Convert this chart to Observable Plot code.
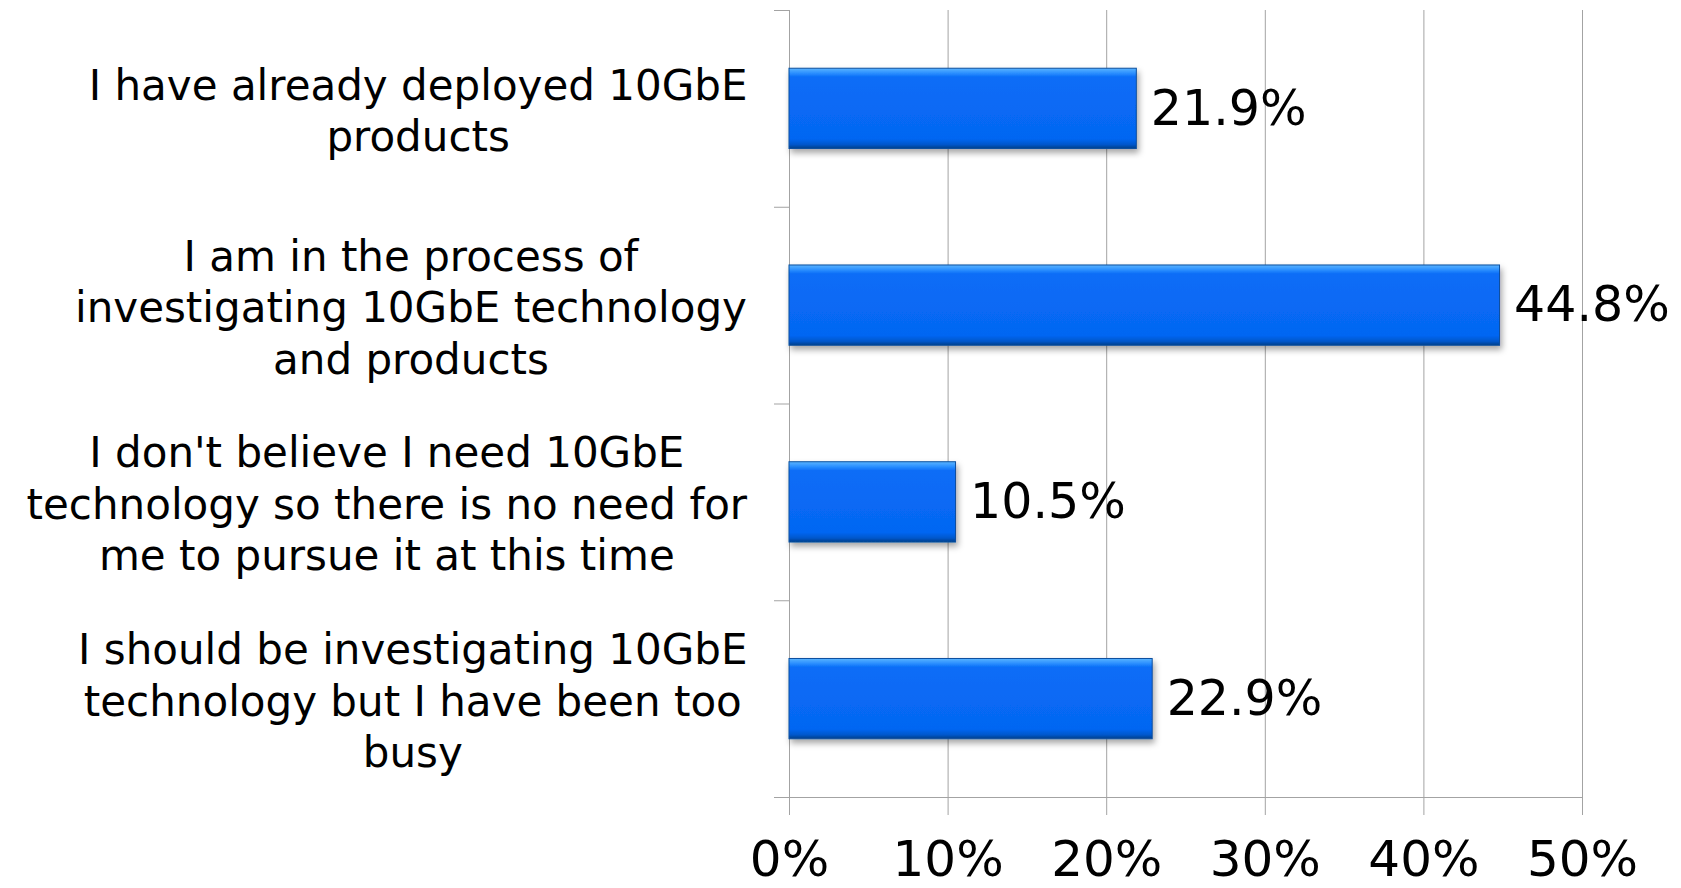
<!DOCTYPE html>
<html>
<head>
<meta charset="utf-8">
<script src="https://cdn.jsdelivr.net/npm/d3@7"></script>
<script src="https://cdn.jsdelivr.net/npm/@observablehq/plot@0.6"></script>
<style>
  html, body { margin: 0; padding: 0; background: #ffffff; }
  #chart { width: 1681px; height: 888px; overflow: hidden; }
</style>
</head>
<body>
<div id="chart"></div>
<script>
// ---- data ----
const categories = [
  "I have already deployed 10GbE\nproducts",
  "I am in the process of\ninvestigating 10GbE technology\nand products",
  "I don't believe I need 10GbE\ntechnology so there is no need for\nme to pursue it at this time",
  "I should be investigating 10GbE\ntechnology but I have been too\nbusy"
];
const values = [21.9, 44.8, 10.5, 22.9];
const xTicks = [0, 10, 20, 30, 40, 50];
const xTickLabels = ["0%", "10%", "20%", "30%", "40%", "50%"];

const data = categories.map((c, i) => ({ i, label: c, value: values[i] }));
const boundaries = d3.range(categories.length + 1);
const barInset = 0.296; // fraction of band left empty above/below each bar

const grid = "#a3a3a3";

const chart = Plot.plot({
  width: 1681,
  height: 888,
  marginLeft: 789,
  marginRight: 99,
  marginTop: 10,
  marginBottom: 91,
  style: { fontFamily: "'DejaVu Sans', Verdana, sans-serif", background: "#ffffff", color: "#000" },
  x: { domain: [0, 50], axis: null, label: null },
  y: { domain: [0, categories.length], reverse: true, axis: null, label: null },
  marks: [
    Plot.gridX({ ticks: xTicks, stroke: grid, strokeOpacity: 1, strokeWidth: 1 }),
    Plot.axisX({
      ticks: xTicks,
      tickFormat: (d) => xTickLabels[xTicks.indexOf(d)],
      tickSize: 18,
      tickPadding: 25,
      fontSize: 50,
      stroke: grid,
      fill: "#000",
      label: null
    }),
    Plot.axisY({
      ticks: boundaries,
      tickSize: 15,
      tickFormat: () => "",
      stroke: grid,
      label: null
    }),
    Plot.ruleX([0], { stroke: grid, strokeWidth: 1 }),
    Plot.ruleY([categories.length], { stroke: grid, strokeWidth: 1 }),
    Plot.rect(data, {
      x1: 0,
      x2: "value",
      y1: (d) => d.i + barInset,
      y2: (d) => d.i + 1 - barInset,
      fill: "url(#barGrad)",
      stroke: "#0b4f9e",
      strokeWidth: 1
    }),
    Plot.text(data, {
      x: "value",
      y: (d) => d.i + 0.5,
      text: (d) => d.value.toFixed(1) + "%",
      textAnchor: "start",
      dx: 14,
      fontSize: 49,
      fill: "#000"
    }),
    Plot.text(data, {
      x: 0,
      y: (d) => d.i + 0.5,
      text: "label",
      textAnchor: "end",
      dx: -42,
      lineAnchor: "middle",
      lineHeight: 1.225,
      fontSize: 42,
      fill: "#000"
    })
  ]
});

document.getElementById("chart").appendChild(chart);

// gradient + shadow for the bevelled bars
const ns = "http://www.w3.org/2000/svg";
const defs = document.createElementNS(ns, "defs");
defs.innerHTML = `
  <linearGradient id="barGrad" x1="0" y1="0" x2="0" y2="1">
    <stop offset="0" stop-color="#5ab4ff"/>
    <stop offset="0.06" stop-color="#2c90ff"/>
    <stop offset="0.11" stop-color="#0a6df7"/>
    <stop offset="0.88" stop-color="#0566f2"/>
    <stop offset="0.95" stop-color="#0457cc"/>
    <stop offset="1" stop-color="#033f8a"/>
  </linearGradient>
  <filter id="barShadow" x="-5%" y="-20%" width="115%" height="160%">
    <feDropShadow dx="2" dy="4" stdDeviation="3" flood-color="#000" flood-opacity="0.35"/>
  </filter>`;
chart.insertBefore(defs, chart.firstChild);
chart.querySelectorAll("rect").forEach((r) => {
  const f = r.getAttribute("fill") || (r.parentNode && r.parentNode.getAttribute && r.parentNode.getAttribute("fill"));
  if (f && f.indexOf("barGrad") >= 0) r.setAttribute("filter", "url(#barShadow)");
});

// center each multi-line category label within its own block (like the original)
chart.querySelectorAll("text").forEach((t) => {
  if (!t.querySelector("tspan")) return;
  const w = t.getBBox().width;
  const tr = t.getAttribute("transform") || "";
  t.style.textAnchor = "middle";
  t.querySelectorAll("tspan").forEach((s) => (s.style.textAnchor = "middle"));
  t.setAttribute("transform", tr + ` translate(${-w / 2},0)`);
});
</script>
</body>
</html>
